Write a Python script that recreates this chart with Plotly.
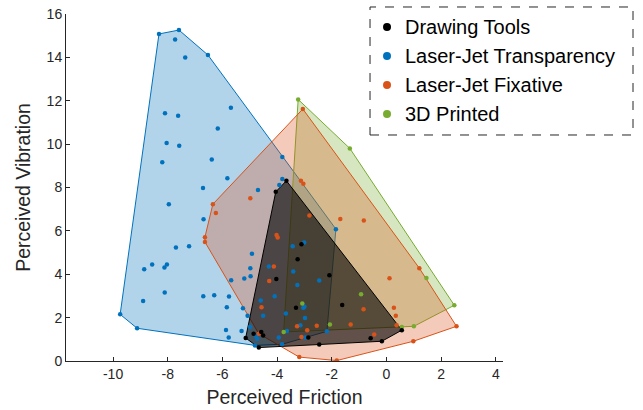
import plotly.graph_objects as go

# ---------------- data ----------------
drawing_x = [-3.66, -4.05, -5.15, -4.67, -2.46, -0.17, 0.56, -3.11, -3.25, -2.09,
             -4.03, -3.31, -1.62, -4.58, -4.51, -4.86, -2.86, -0.58]
drawing_y = [8.31, 7.80, 1.06, 0.62, 0.76, 0.91, 1.42, 5.38, 4.69, 3.95,
             3.78, 2.46, 2.58, 1.34, 1.18, 1.26, 1.08, 1.05]

transp_x = [-9.74, -9.12, -4.81, -3.82, -2.18, -1.85, -6.53, -7.59, -8.32,
            -7.73, -7.36, -5.69, -8.10, -7.62, -6.17, -8.04, -7.58, -8.20, -6.39,
            -5.82, -3.81, -3.81, -3.92, -6.71, -7.96, -6.69, -4.70, -7.70, -7.22,
            -8.86, -8.57, -8.12, -8.03, -4.92, -4.98, -4.97, -5.20, -5.68, -8.90,
            -8.11, -6.70, -6.30, -5.76, -5.84, -5.25, -5.08, -5.87, -5.77, -5.30,
            -4.99, -4.30, -3.41, -3.26, -2.46, -4.09, -4.60, -4.51, -3.68, -3.04,
            -3.00, -2.98, -3.64, -3.15, -3.94, -2.97, -4.77, -4.73, -3.43, -3.01]
transp_y = [2.15, 1.51, 0.72, 0.77, 1.37, 6.08, 14.11, 15.26, 15.08,
            14.82, 14.00, 11.68, 11.42, 11.31, 10.72, 10.05, 9.92, 9.16, 9.29,
            8.43, 9.41, 8.39, 8.12, 7.98, 7.23, 6.54, 7.89, 5.23, 5.29,
            4.23, 4.45, 4.31, 4.45, 4.94, 4.28, 3.91, 3.80, 3.72, 2.77,
            3.16, 2.99, 3.03, 2.97, 2.48, 2.43, 2.09, 1.43, 1.08, 1.38,
            1.57, 4.36, 4.13, 3.51, 3.71, 2.99, 2.79, 2.09, 2.19, 2.45,
            2.50, 1.98, 1.38, 1.65, 1.08, 1.08, 1.17, 1.03, 5.29, 5.46]

fixative_x = [-3.06, 1.20, 2.56, 0.98, -1.82, -3.19, -6.64, -6.64, -6.35,
              -6.24, -4.98, -3.13, -3.04, -2.82, -1.69, -0.83, -4.02, -3.98, -4.12,
              -4.29, -4.57, -4.67, -3.27, -2.90, -3.11, -2.55, -1.31, -0.84, 0.11,
              0.27, 0.34, 0.37, -0.45]
fixative_y = [11.62, 4.28, 1.60, 0.91, 0.02, 0.18, 5.49, 5.71, 7.23,
              6.82, 7.51, 8.31, 8.17, 6.71, 6.55, 6.48, 5.81, 5.69, 4.36,
              3.69, 2.48, 1.26, 1.60, 1.42, 1.11, 1.63, 1.68, 2.39, 3.82,
              2.46, 2.09, 1.65, 1.22]

printed_x = [-3.23, -1.34, 2.48, 1.00, 0.56, -3.76, -2.07, 1.46, -3.08, -0.93]
printed_y = [12.06, 9.80, 2.57, 1.60, 1.57, 1.34, 1.68, 3.83, 2.65, 3.08]

series_names = ["Drawing Tools", "Laser-Jet Transparency", "Laser-Jet Fixative", "3D Printed"]
series_colors = ["#000000", "#0072BD", "#D95319", "#77AC30"]
fill_colors = ["rgba(0,0,0,0.6)", "rgba(0,114,189,0.3)", "rgba(217,83,25,0.3)", "rgba(119,172,48,0.3)"]

x_ticks = [-10, -8, -6, -4, -2, 0, 2, 4]
y_ticks = [0, 2, 4, 6, 8, 10, 12, 14, 16]


def convex_hull(xs, ys):
    pts = sorted(set(zip(xs, ys)))

    def cross(o, a, b):
        return (a[0] - o[0]) * (b[1] - o[1]) - (a[1] - o[1]) * (b[0] - o[0])

    lower, upper = [], []
    for p in pts:
        while len(lower) >= 2 and cross(lower[-2], lower[-1], p) <= 0:
            lower.pop()
        lower.append(p)
    for p in reversed(pts):
        while len(upper) >= 2 and cross(upper[-2], upper[-1], p) <= 0:
            upper.pop()
        upper.append(p)
    hull = lower[:-1] + upper[:-1]
    hull.append(hull[0])
    return [p[0] for p in hull], [p[1] for p in hull]


data = [(drawing_x, drawing_y), (transp_x, transp_y), (fixative_x, fixative_y), (printed_x, printed_y)]

fig = go.Figure()

# hull fills (blue, green, orange, black on top)
for i in [1, 3, 2, 0]:
    hx, hy = convex_hull(*data[i])
    fig.add_trace(go.Scatter(x=hx, y=hy, mode="lines", fill="toself",
                             fillcolor=fill_colors[i],
                             line=dict(color=series_colors[i], width=1),
                             hoverinfo="skip", showlegend=False))

# points
for i in [1, 2, 3, 0]:
    fig.add_trace(go.Scatter(x=data[i][0], y=data[i][1], mode="markers",
                             marker=dict(color=series_colors[i], size=4.5),
                             name=series_names[i], showlegend=False))

font_family = "Liberation Sans, Arial, Helvetica, sans-serif"

# legend drawn as a dashed box with marker dots and text entries
leg_marker_x = 0.7346
leg_text_x = 0.7712
leg_rows_y = [0.9625, 0.8790, 0.7954, 0.7118]

shapes = [dict(type="rect", xref="paper", yref="paper",
               x0=0.6957, x1=1.2975, y0=0.6513, y1=1.0202,
               line=dict(color="#262626", width=1, dash="dash"),
               fillcolor="rgba(0,0,0,0)", layer="above")]
annotations = []
for i in range(4):
    shapes.append(dict(type="circle", xref="paper", yref="paper",
                       xsizemode="pixel", ysizemode="pixel",
                       xanchor=leg_marker_x, yanchor=leg_rows_y[i],
                       x0=-4, x1=4, y0=-4, y1=4,
                       fillcolor=series_colors[i], line=dict(width=0), layer="above"))
    annotations.append(dict(xref="paper", yref="paper", x=leg_text_x, y=leg_rows_y[i],
                            xanchor="left", yanchor="middle", showarrow=False,
                            text=series_names[i],
                            font=dict(size=20, color="#000000", family=font_family)))

fig.update_layout(
    width=643, height=410,
    margin=dict(l=66, r=140, t=14, b=49),
    paper_bgcolor="white", plot_bgcolor="white",
    font=dict(family=font_family, color="#262626"),
    showlegend=False,
    shapes=shapes,
    annotations=annotations,
)

fig.update_xaxes(range=[-11.72, 4.26], tickvals=x_ticks, ticktext=[str(v) for v in x_ticks],
                 showline=True, linecolor="#262626", linewidth=1, mirror=False,
                 ticks="inside", ticklen=4, tickcolor="#262626",
                 showgrid=False, zeroline=False,
                 tickfont=dict(size=14, color="#262626"),
                 title=dict(text="Perceived Friction", font=dict(size=19.5, color="#262626"), standoff=9),
                 automargin=False)
fig.update_yaxes(range=[0, 16], tickvals=y_ticks, ticktext=[str(v) for v in y_ticks],
                 showline=True, linecolor="#262626", linewidth=1, mirror=False,
                 ticks="inside", ticklen=4, tickcolor="#262626",
                 showgrid=False, zeroline=False,
                 tickfont=dict(size=14, color="#262626"),
                 title=dict(text="Perceived Vibration", font=dict(size=19.5, color="#262626"), standoff=10),
                 automargin=False)

fig.write_html("out.html", config={"displayModeBar": False},
               post_script="document.body.style.margin='0';document.body.style.padding='0';")
